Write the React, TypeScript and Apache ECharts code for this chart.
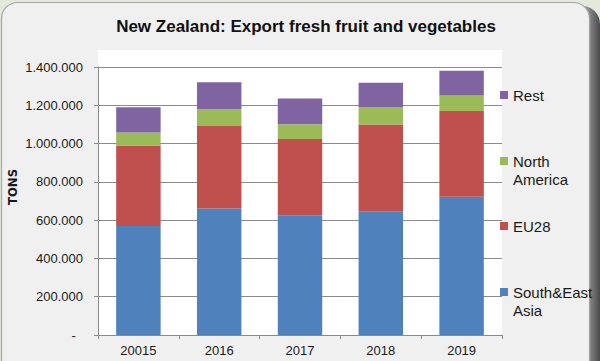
import React, { useEffect, useRef } from "react";
import * as echarts from "echarts";

const categories = ["20015", "2016", "2017", "2018", "2019"];
const southEastAsia = [570000, 661000, 626000, 647000, 722000];
const eu28 = [420000, 431000, 398000, 452000, 448000];
const northAmerica = [68000, 87000, 77000, 92000, 81000];
const rest = [132000, 141000, 134000, 127000, 130000];
const yTicks = [0, 200000, 400000, 600000, 800000, 1000000, 1200000, 1400000];

const FONT = "'Liberation Sans', Arial, sans-serif";
const TEXT = "#1a1a1a";
const GRID = "#8a8a8a";

function fmt(v: number): string {
  if (v === 0) return "-\u00a0\u00a0";
  return String(Math.round(v)).replace(/\B(?=(\d{3})+(?!\d))/g, ".");
}

export default function App() {
  const ref = useRef<HTMLDivElement>(null);
  useEffect(() => {
    if (!ref.current) return;
    const chart = echarts.init(ref.current, null, { renderer: "svg" });
    const legendItem = (name: string, label: string, center: number, lines: number) => ({
      show: true,
      left: 500,
      top: center - (lines * 18) / 2,
      padding: 0,
      orient: "vertical",
      selectedMode: false,
      icon: "rect",
      itemWidth: 8,
      itemHeight: 8,
      data: [name],
      formatter: () => label,
      textStyle: { fontFamily: FONT, fontSize: 15, color: TEXT, lineHeight: 18 },
    });
    const seriesBase = {
      type: "bar",
      stack: "total",
      barWidth: "55%",
    };
    chart.setOption({
      animation: false,
      backgroundColor: "transparent",
      title: {
        text: "New Zealand: Export fresh fruit and vegetables",
        left: 301,
        textAlign: "center",
        top: 13,
        textStyle: { fontFamily: FONT, fontSize: 17, fontWeight: "bold", color: "#111" },
      },
      graphic: [
        { type: "rect", z: -100, shape: { x: 0, y: 0, width: 600, height: 361 }, style: { fill: "#e3eadb" } },
        {
          type: "rect",
          z: -99,
          shape: { x: 8, y: 6, width: 592, height: 400, r: 18 },
          style: {
            fill: new echarts.graphic.LinearGradient(0, 0, 1, 0, [
              { offset: 0, color: "#d0d0d0" },
              { offset: 0.97, color: "#b0b0b0" },
              { offset: 1, color: "#4a4a4a" },
            ]),
          },
        },
        {
          type: "rect",
          z: -98,
          shape: { x: 1.5, y: 2.5, width: 588, height: 400, r: 16 },
          style: { fill: "#f0f0f0", stroke: "#a6a6a6", lineWidth: 1.2 },
        },
        { type: "rect", z: -50, shape: { x: 98, y: 50, width: 404, height: 285 }, style: { fill: "#ffffff" } },
        {
          type: "text",
          x: 12,
          y: 187,
          rotation: Math.PI / 2,
          style: {
            text: "TONS",
            align: "center",
            verticalAlign: "middle",
            fill: TEXT,
            font: "bold 13px 'Liberation Sans Narrow', 'DejaVu Sans Condensed', Arial, sans-serif",
          },
        },
      ],
      legend: [
        legendItem("Rest", "Rest", 95, 1),
        legendItem("North America", " \nNorth\nAmerica", 161, 3),
        legendItem("EU28", "EU28", 226, 1),
        legendItem("South&East Asia", " \nSouth&East\nAsia", 292, 3),
      ],
      grid: { left: 98, right: 98, top: 67, bottom: 26 },
      xAxis: {
        type: "category",
        data: categories,
        boundaryGap: true,
        axisLine: { show: true, lineStyle: { color: GRID, width: 1 } },
        axisTick: { show: true, alignWithLabel: false, length: 4, lineStyle: { color: GRID } },
        axisLabel: { fontFamily: FONT, fontSize: 13, color: TEXT, margin: 9 },
      },
      yAxis: {
        type: "value",
        min: 0,
        max: yTicks[yTicks.length - 1],
        interval: 200000,
        axisLine: { show: true, lineStyle: { color: GRID, width: 1 } },
        axisTick: { show: true, length: 4, lineStyle: { color: GRID } },
        splitLine: { show: true, lineStyle: { color: GRID, width: 1 } },
        axisLabel: { fontFamily: FONT, fontSize: 13, color: TEXT, margin: 15, formatter: (v: number) => fmt(v) },
      },
      series: [
        { ...seriesBase, name: "South&East Asia", data: southEastAsia, itemStyle: { color: "#4f81bd" } },
        { ...seriesBase, name: "EU28", data: eu28, itemStyle: { color: "#c0504d" } },
        { ...seriesBase, name: "North America", data: northAmerica, itemStyle: { color: "#9bbb59" } },
        { ...seriesBase, name: "Rest", data: rest, itemStyle: { color: "#8064a2" } },
      ],
    });
    return () => chart.dispose();
  }, []);
  return (
    <div
      ref={ref}
      style={{ position: "absolute", left: 0, top: 0, width: 600, height: 361 }}
    />
  );
}
